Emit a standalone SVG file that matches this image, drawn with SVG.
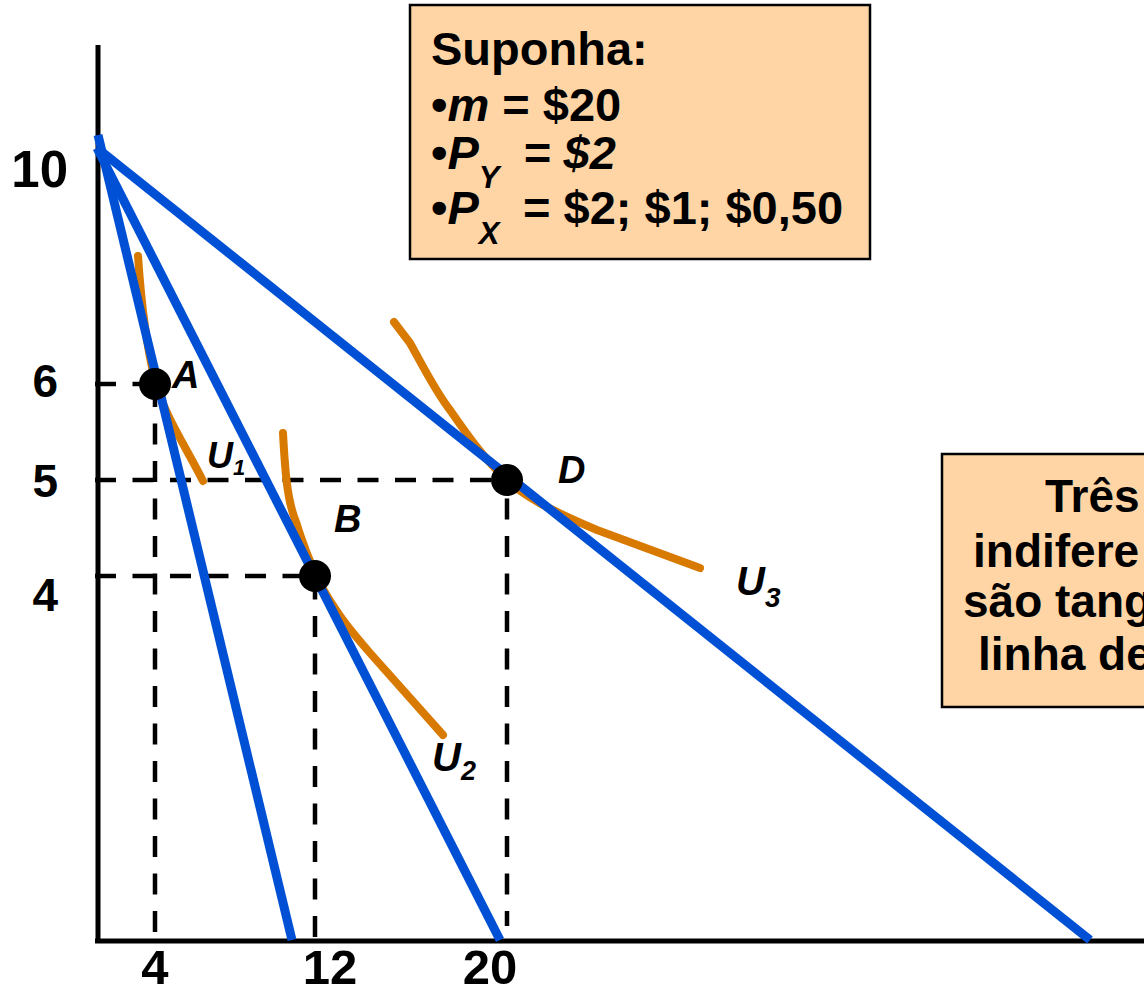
<svg xmlns="http://www.w3.org/2000/svg" width="1144" height="991" viewBox="0 0 1144 991">
<style>
text{font-family:"Liberation Sans",Arial,sans-serif;font-weight:bold;fill:#000}
.it{font-style:italic}
.num{font-size:48px}
.lbl{font-size:38px;font-style:italic}
.box{fill:#FFD5A6;stroke:#000;stroke-width:2.5}
.budget{stroke:#0050D5;stroke-width:9;fill:none;stroke-linecap:butt}
.ic{stroke:#D97A00;stroke-width:8;fill:none;stroke-linecap:round;stroke-linejoin:round}
.dash{stroke:#000;stroke-width:4.5;stroke-dasharray:21 16.5;fill:none}
.axis{stroke:#000;stroke-width:5;fill:none}
.bt{font-size:47px}
</style>
<rect width="1144" height="991" fill="#fff"/>
<g id="guides">
<path class="dash" d="M95,384 H155"/>
<path class="dash" d="M95,480 H507"/>
<path class="dash" d="M95,576 H315"/>
<path class="dash" d="M155,932 V384"/>
<path class="dash" d="M315,937 V576"/>
<path class="dash" style="stroke-dashoffset:6" d="M507,926 V480"/>
</g>
<g id="axes">
<path class="axis" d="M98,45 V943"/>
<path class="axis" d="M95,941 H1144"/>
<text class="num" x="68" y="187" text-anchor="end" style="font-size:51px">10</text>
<text class="num" x="58" y="397" text-anchor="end" style="font-size:46px">6</text>
<text class="num" x="58" y="497" text-anchor="end" style="font-size:46px">5</text>
<text class="num" x="58" y="611" text-anchor="end" style="font-size:46px">4</text>
<text class="num" x="155" y="984" text-anchor="middle" style="font-size:49px">4</text>
<text class="num" x="330" y="984" text-anchor="middle" style="font-size:49px">12</text>
<text class="num" x="490" y="984" text-anchor="middle" style="font-size:49px">20</text>
</g>
<g id="curves">
<path id="U1" class="ic" d="M138,256 C141,300 146,345 155,380 C164,415 185,445 203,481"/>
<path id="U2" class="ic" d="M283,433 C285,470 287,500 296,522 C303,545 310,562 318,580 C335,612 350,630 370,653 L443,735"/>
<path id="U3" class="ic" d="M394,322 L410,343 C425,370 436,392 450,410 C468,436 485,460 507,480 C525,497 550,510 597,530 L700,568"/>
</g>
<g id="connectors">
<path class="budget" d="M98,135 L292,940"/>
<path class="budget" d="M97,148 L500,940"/>
<path class="budget" d="M97,148 L1090,940"/>
</g>
<g id="points">
<g id="A"><circle cx="155" cy="384" r="16"/><text class="lbl" x="172" y="388">A</text></g>
<g id="B"><circle cx="315" cy="576" r="16"/><text class="lbl" x="334" y="532">B</text></g>
<g id="D"><circle cx="507" cy="480" r="16"/><text class="lbl" x="558" y="483">D</text></g>
</g>
<g id="curve-labels">
<text class="it" x="207" y="468" style="font-size:36px">U<tspan dy="7" style="font-size:22px">1</tspan></text>
<text class="it" x="432" y="771" style="font-size:40px">U<tspan dy="9" style="font-size:27px">2</tspan></text>
<text class="it" x="736" y="595" style="font-size:40px">U<tspan dy="12" style="font-size:28px">3</tspan></text>
</g>
<g id="assumptions">
<rect class="box" x="410" y="5" width="460" height="254"/>
<text class="bt" x="431" y="65">Suponha:</text>
<text class="bt" x="431" y="121">•<tspan class="it">m</tspan> = $20</text>
<text class="bt" x="431" y="169">•<tspan class="it">P</tspan><tspan class="it" dy="19" style="font-size:31px">Y</tspan><tspan class="it" x="523" dy="-19">= $2</tspan></text>
<text class="bt" x="431" y="224">•<tspan class="it">P</tspan><tspan class="it" dy="20" style="font-size:31px">X</tspan><tspan x="523" dy="-20">= $2; $1; $0,50</tspan></text>
</g>
<g id="note">
<rect class="box" x="942" y="454" width="240" height="253"/>
<text class="bt" x="1045" y="512" style="font-size:46px">Três</text>
<text class="bt" x="973" y="567" style="font-size:46px">indifere</text>
<text class="bt" x="963" y="617" style="font-size:46px">são tang</text>
<text class="bt" x="978" y="670" style="font-size:46px">linha de</text>
</g>
</svg>
